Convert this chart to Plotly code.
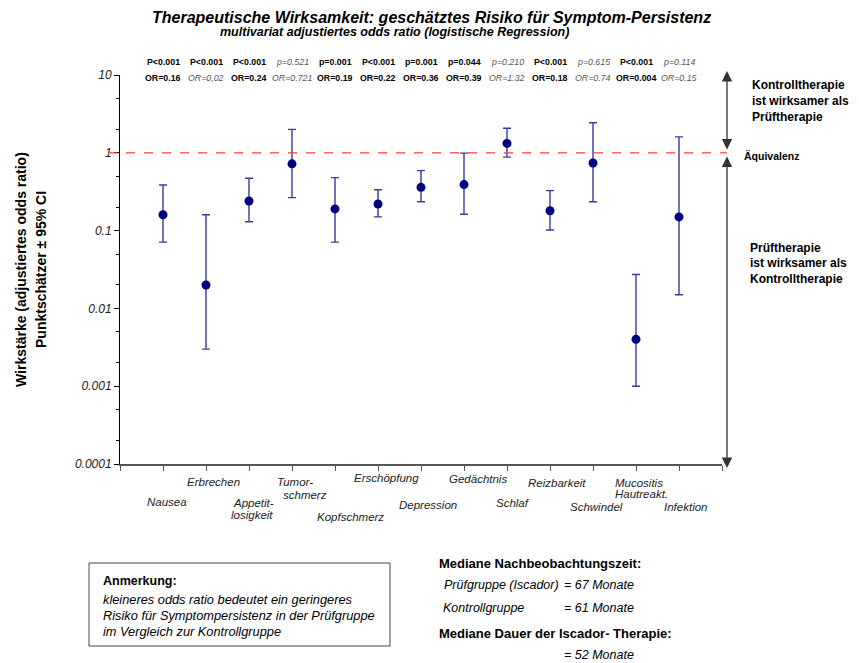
import plotly.graph_objects as go

# ---------------- data ----------------
symptoms = ["Nausea", "Erbrechen", "Appetitlosigkeit", "Tumorschmerz", "Kopfschmerz",
            "Erschöpfung", "Depression", "Gedächtnis", "Schlaf", "Reizbarkeit",
            "Schwindel", "Mucositis Hautreakt.", "Infektion"]
odds_ratio = [0.16, 0.02, 0.24, 0.721, 0.19, 0.22, 0.36, 0.39, 1.32, 0.18, 0.74, 0.004, 0.15]
ci_lower = [0.071, 0.003, 0.13, 0.265, 0.071, 0.15, 0.235, 0.162, 0.88, 0.102, 0.235, 0.001, 0.015]
ci_upper = [0.385, 0.16, 0.47, 2.0, 0.48, 0.335, 0.59, 0.99, 2.07, 0.326, 2.43, 0.0273, 1.6]
p_text = ["P<0.001", "P<0.001", "P<0.001", "p=0.521", "p=0.001", "P<0.001", "p=0.001",
          "p=0.044", "p=0.210", "P<0.001", "p=0.615", "P<0.001", "p=0.114"]
or_text = ["OR=0.16", "OR=0,02", "OR=0.24", "OR=0.721", "OR=0.19", "OR=0.22", "OR=0.36",
           "OR=0.39", "OR=1.32", "OR=0.18", "OR=0.74", "OR=0.004", "OR=0.15"]
p_significant = [True, True, True, False, True, True, True, True, False, True, False, True, False]
or_significant = [True, False, True, False, True, True, True, True, False, True, False, True, False]
y_tick_values = [0.0001, 0.001, 0.01, 0.1, 1, 10]
y_tick_labels = ["0.0001", "0.001", "0.01", "0.1", "1", "10"]

# category label lines (text, page x center, page y center) - layout only
label_lines = [
    ("Nausea", 167, 502), ("Erbrechen", 213, 482), ("Appetit-", 253, 503),
    ("losigkeit", 252, 515), ("Tumor-", 295, 482), ("schmerz", 305, 495),
    ("Kopfschmerz", 350, 517), ("Erschöpfung", 386, 478), ("Depression", 428, 505),
    ("Gedächtnis", 478, 479), ("Schlaf", 513, 503), ("Reizbarkeit", 557, 483),
    ("Schwindel", 596, 507), ("Mucositis", 639, 483), ("Hautreakt.", 641, 494),
    ("Infektion", 685, 507),
]

PAGE_W, PAGE_H = 859, 663
OFF = 8  # default body margin of the html page
W, H = PAGE_W - OFF, PAGE_H - OFF
L, R, T, B = 120, 722, 75, 464  # plot area in page pixels


def px(x, y):
    return (x - L) / (R - L), (B - y) / (B - T)


FONT = "Liberation Sans, Arial, sans-serif"

xpos = list(range(1, len(symptoms) + 1))

fig = go.Figure()
fig.add_trace(go.Scatter(
    x=xpos, y=odds_ratio, mode="markers",
    marker=dict(color="#000080", size=9),
    error_y=dict(type="data", symmetric=False,
                 array=[u - o for u, o in zip(ci_upper, odds_ratio)],
                 arrayminus=[o - l for o, l in zip(odds_ratio, ci_lower)],
                 color="rgba(10,10,130,0.8)", thickness=1.4, width=4),
    text=symptoms, hoverinfo="text+y", showlegend=False,
))

ann = []


def txt(s, x, y, size=10, bold=False, italic=False, color="black", xanchor="center",
        family=FONT, angle=0):
    xp, yp = px(x, y)
    if bold:
        s = "<b>" + s + "</b>"
    if italic:
        s = "<i>" + s + "</i>"
    ann.append(dict(text=s, x=xp, y=yp, xref="paper", yref="paper", showarrow=False,
                    xanchor=xanchor, yanchor="middle", textangle=angle,
                    font=dict(family=family, size=size, color=color)))


# titles
txt("Therapeutische Wirksamkeit: geschätztes Risiko für Symptom-Persistenz", 431, 17,
    size=16, bold=True, italic=True)
txt("multivariat adjustiertes odds ratio (logistische Regression)", 394, 32,
    size=12.5, bold=True, italic=True)

# y-axis title lines
txt("Wirkstärke (adjustiertes odds ratio)", 21, 270, size=14, bold=True, angle=-90)
txt("Punktschätzer ± 95% CI", 41, 270, size=14, bold=True, angle=-90)

# statistics row
for i, x in enumerate(xpos):
    cx = L + x * (R - L) / 14
    if p_significant[i]:
        txt(p_text[i], cx, 62, size=8.8, bold=True)
    else:
        txt(p_text[i], cx, 62, size=8.8, italic=True, color="#555555")
    if or_significant[i]:
        txt(or_text[i], cx, 78, size=8.8, bold=True)
    else:
        txt(or_text[i], cx, 78, size=8.8, italic=True, color="#555555")

# category labels
for s, x, y in label_lines:
    txt(s, x, y, size=11.5, italic=True, color="#222222")

# right side explanation
txt("Kontrolltherapie", 750, 85, size=12, bold=True, xanchor="left")
txt("ist wirksamer als", 750, 101, size=12, bold=True, xanchor="left")
txt("Prüftherapie", 750, 117, size=12, bold=True, xanchor="left")
txt("Äquivalenz", 742, 156, size=10.5, bold=True, xanchor="left")
txt("Prüftherapie", 748, 248, size=12, bold=True, xanchor="left")
txt("ist wirksamer als", 748, 263, size=12, bold=True, xanchor="left")
txt("Kontrolltherapie", 748, 279, size=12, bold=True, xanchor="left")

# arrows
ax_x, _ = px(727, 0)
_, top_tip = px(0, 71)
_, bot_tip = px(0, 468)
for tip, ay in [(top_tip, 80), (bot_tip, -313)]:
    ann.append(dict(x=ax_x, y=tip, xref="paper", yref="paper", ax=0, ay=ay,
                    axref="pixel", ayref="pixel", text="", showarrow=True,
                    arrowside="end+start", arrowhead=2, startarrowhead=2,
                    arrowsize=1.6, startarrowsize=1.6, arrowwidth=1.3,
                    arrowcolor="#333333"))

# note box
txt("Anmerkung:", 101, 581, size=12.5, bold=True, xanchor="left")
txt("kleineres odds ratio bedeutet ein geringeres", 101, 599, size=12.8, italic=True, xanchor="left")
txt("Risiko für Symptompersistenz in der Prüfgruppe", 101, 615, size=12.8, italic=True, xanchor="left")
txt("im Vergleich zur Kontrollgruppe", 101, 631, size=12.8, italic=True, xanchor="left")

# follow-up info
txt("Mediane Nachbeobachtungszeit:", 437, 563, size=13, bold=True, xanchor="left")
txt("Prüfgruppe (Iscador)", 442, 585, size=12.5, italic=True, xanchor="left")
txt("= 67 Monate", 562, 585, size=12.5, italic=True, xanchor="left")
txt("Kontrollgruppe", 441, 608, size=12.5, italic=True, xanchor="left")
txt("= 61 Monate", 562, 608, size=12.5, italic=True, xanchor="left")
txt("Mediane Dauer der Iscador- Therapie:", 437, 633, size=13, bold=True, xanchor="left")
txt("= 52 Monate", 562, 655, size=12.5, italic=True, xanchor="left")

bx0, by0 = px(89, 646)
bx1, by1 = px(390, 563)
dl0, _ = px(108, 0)
dl1, _ = px(727, 0)
shapes = [
    dict(type="rect", xref="paper", yref="paper", x0=bx0, y0=by0, x1=bx1, y1=by1,
         line=dict(color="#444444", width=1)),
    dict(type="line", xref="paper", yref="y", x0=dl0, x1=dl1, y0=1, y1=1,
         line=dict(color="#ff3b3b", width=1.3, dash="dash")),
]

fig.update_layout(
    width=W, height=H, autosize=False,
    margin=dict(l=L - OFF, r=PAGE_W - R, t=T - OFF, b=PAGE_H - B, pad=0),
    paper_bgcolor="white", plot_bgcolor="white",
    annotations=ann, shapes=shapes,
    font=dict(family=FONT, color="black"),
    xaxis=dict(range=[0, 14], tickmode="array", tickvals=list(range(15)), showticklabels=False,
               ticks="outside", ticklen=5, tickcolor="#555555", showline=True,
               linecolor="#555555", linewidth=1.5, showgrid=False, zeroline=False, fixedrange=True),
    yaxis=dict(type="log", range=[-4, 1], tickmode="array", tickvals=y_tick_values,
               ticktext=["<i>" + t + "</i>" for t in y_tick_labels],
               tickfont=dict(size=12, family=FONT, color="#222222"),
               ticks="outside", ticklen=5, tickcolor="black", showline=True, linecolor="black",
               linewidth=1, showgrid=False, zeroline=False,
               minor=dict(ticks="outside", ticklen=3, tickcolor="black", dtick="D2",
                          showgrid=False)),
)

fig.write_html("out.html")
